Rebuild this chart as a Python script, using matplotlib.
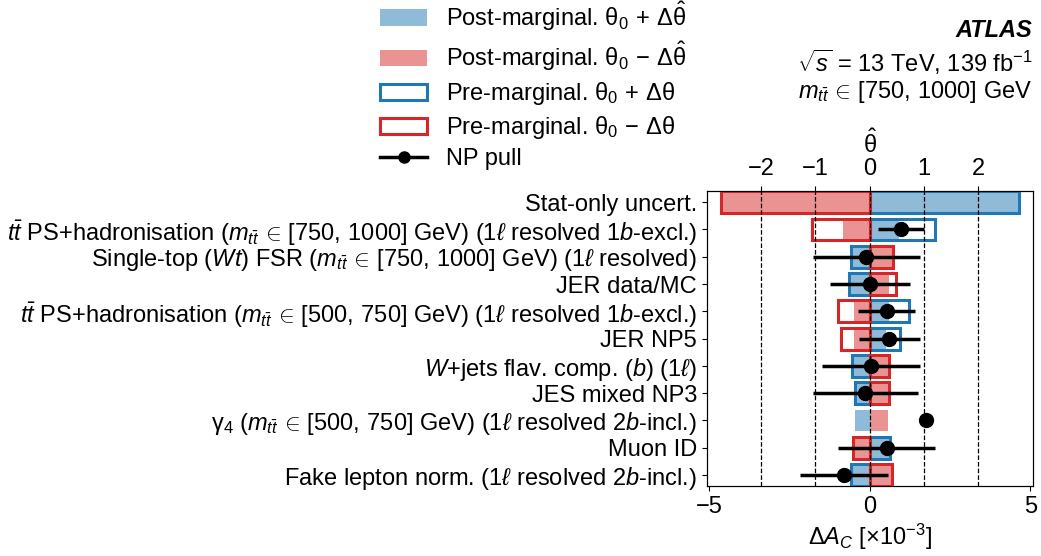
import numpy as np
import matplotlib.pyplot as plt
from matplotlib.patches import Patch
from matplotlib.lines import Line2D

plt.rcParams['font.family'] = ['Liberation Sans', 'DejaVu Sans']
plt.rcParams['mathtext.fontset'] = 'custom'
plt.rcParams['mathtext.rm'] = 'Liberation Sans'
plt.rcParams['mathtext.it'] = 'Liberation Sans:italic'
plt.rcParams['mathtext.bf'] = 'Liberation Sans:bold'
plt.rcParams['font.size'] = 17

labels = [
    'Stat-only uncert.',
    r'$t\bar{t}$ PS+hadronisation ($m_{t\bar{t}}\,\in\,[750,\,1000]$ GeV) (1$\ell$ resolved 1$b$-excl.)',
    r'Single-top ($Wt$) FSR ($m_{t\bar{t}}\,\in\,[750,\,1000]$ GeV) (1$\ell$ resolved)',
    'JER data/MC',
    r'$t\bar{t}$ PS+hadronisation ($m_{t\bar{t}}\,\in\,[500,\,750]$ GeV) (1$\ell$ resolved 1$b$-excl.)',
    'JER NP5',
    r'$W$+jets flav. comp. ($b$) (1$\ell$)',
    'JES mixed NP3',
    r'$\mathrm{\gamma}_4$ ($m_{t\bar{t}}\,\in\,[500,\,750]$ GeV) (1$\ell$ resolved 2$b$-incl.)',
    'Muon ID',
    r'Fake lepton norm. (1$\ell$ resolved 2$b$-incl.)',
]

# impact on A_C [x10^-3]
post_up = [4.66, 0.90, -0.55, -0.62, 0.59, 0.52, -0.50, -0.45, -0.47, 0.59, -0.55]
post_dn = [-4.63, -0.83, 0.72, 0.59, -0.49, -0.49, 0.59, 0.59, 0.56, -0.48, 0.67]
pre_up = [4.66, 2.02, -0.59, -0.66, 1.21, 0.95, -0.54, -0.47, np.nan, 0.62, -0.59]
pre_dn = [-4.63, -1.79, 0.72, 0.81, -0.98, -0.88, 0.60, 0.59, np.nan, -0.52, 0.69]

# NP pulls (theta hat)
pull = [np.nan, 0.57, -0.06, 0.0, 0.31, 0.36, 0.02, -0.08, 1.03, 0.31, -0.47]
pull_err = [np.nan, 0.42, 0.99, 0.74, 0.53, 0.56, 0.90, 0.97, 0.0, 0.90, 0.81]

blue = '#1f77b4'
red = '#d62728'
lblue = '#8fbbd9'
lred = '#ea9393'

y = np.arange(len(labels))

fig = plt.figure(figsize=(10.41, 5.56), dpi=100)
ax = fig.add_axes([0.679, 0.126, 0.313, 0.531])

ax.barh(y, post_up, height=0.8, color=lblue, zorder=2)
ax.barh(y, post_dn, height=0.8, color=lred, zorder=2)
ok = np.isfinite(pre_up)
ax.barh(y[ok], np.array(pre_up)[ok], height=0.8, fill=False, edgecolor=blue, lw=2.2, zorder=3)
ok = np.isfinite(pre_dn)
ax.barh(y[ok], np.array(pre_dn)[ok], height=0.8, fill=False, edgecolor=red, lw=2.2, zorder=3)

ax.set_xlim(-5.07, 5.07)
ax.set_ylim(10.4, -0.42)
ax.set_yticks(y)
ax.set_yticklabels(labels)
ax.set_xticks([-5, 0, 5])
ax.set_xticklabels(['\u22125', '0', '5'])
ax.set_xlabel(r'$\Delta A_C$ [$\times 10^{-3}$]', labelpad=3)

ax2 = ax.twiny()
ax2.set_xlim(-3, 3)
ax2.set_xticks([-2, -1, 0, 1, 2])
ax2.set_xticklabels(['\u22122', '\u22121', '0', '1', '2'])
ax2.tick_params(axis='x', pad=4)
ax2.set_xlabel(r'$\hat{\mathrm{\theta}}$', labelpad=4)
for t in [-2, -1, 0, 1, 2]:
    ax2.axvline(t, color='black', ls='--', lw=0.9, zorder=1)
ax2.errorbar(pull, y, xerr=pull_err, fmt='o', color='black', ms=10, elinewidth=2.5, capsize=0, zorder=5)
ax2.set_ylim(10.4, -0.42)

handles = [
    Patch(facecolor=lblue, edgecolor='none'),
    Patch(facecolor=lred, edgecolor='none'),
    Patch(facecolor='white', edgecolor=blue, lw=2.2),
    Patch(facecolor='white', edgecolor=red, lw=2.2),
    Line2D([], [], color='black', marker='o', ms=8, lw=2.5),
]
leg_labels = [
    r'Post-marginal. $\mathrm{\theta}_0\,+\,\Delta\hat{\mathrm{\theta}}$',
    r'Post-marginal. $\mathrm{\theta}_0\,-\,\Delta\hat{\mathrm{\theta}}$',
    r'Pre-marginal. $\mathrm{\theta}_0\,+\,\Delta\mathrm{\theta}$',
    r'Pre-marginal. $\mathrm{\theta}_0\,-\,\Delta\mathrm{\theta}$',
    'NP pull',
]
fig.legend(handles, leg_labels, loc='upper left', bbox_to_anchor=(0.3605, 1.01),
           frameon=False, handlelength=2.0, labelspacing=0.3, borderpad=0.2,
           borderaxespad=0, fontsize=17)

fig.text(0.992, 0.945, 'ATLAS', ha='right', va='center', weight='bold', style='italic', fontsize=17)
fig.text(0.992, 0.888, r'$\sqrt{s}$ = 13 TeV, 139 fb$^{-1}$', ha='right', va='center', fontsize=17)
fig.text(0.992, 0.834, r'$m_{t\bar{t}}\,\in\,[750,\,1000]$ GeV', ha='right', va='center', fontsize=17)

fig.savefig('out.png', dpi=100)
